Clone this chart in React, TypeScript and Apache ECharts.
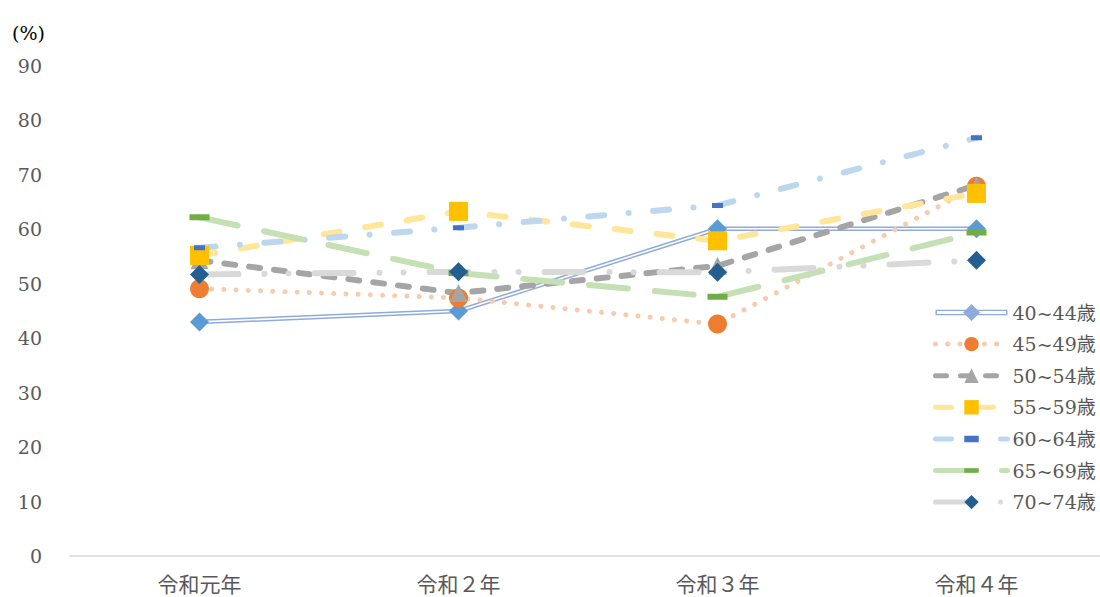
import React, { useEffect, useRef } from "react";
import * as echarts from "echarts";

// Categories (fiscal years) and rates (%) by age group
const categories = ["令和元年", "令和２年", "令和３年", "令和４年"];
const ageGroups = ["40~44歳", "45~49歳", "50~54歳", "55~59歳", "60~64歳", "65~69歳", "70~74歳"];

const rate40to44 = [43.0, 45.0, 60.1, 60.1];
const rate45to49 = [49.1, 47.4, 42.6, 67.9];
const rate50to54 = [54.3, 48.3, 53.3, 68.1];
const rate55to59 = [55.2, 63.3, 57.9, 66.6];
const rate60to64 = [56.6, 60.3, 64.4, 76.8];
const rate65to69 = [62.2, 52.0, 47.6, 59.4];
const rate70to74 = [51.7, 52.2, 52.1, 54.3];

const yMin = 0;
const yMax = 90;
const yStep = 10;

const serif = "'DejaVu Serif', 'Noto Sans CJK JP', serif";
const gothic = "'Noto Sans CJK JP', 'Noto Sans', sans-serif";
const textGray = "#595959";

// Legend icon for the double (compound) line: hollow bar with a diamond
const doubleLineIcon =
  "path://M0 6.2 H72 V11.8 H0 Z M1.4 7.6 V10.4 H70.6 V7.6 Z M36 0.5 L44.5 9 L36 17.5 L27.5 9 Z";

// Flat markers drawn inside a square box (the corner points keep the box square)
const shortDashMarker = "path://M0 0 L0.01 0 Z M0 3 H11 V8 H0 Z M11 11 L10.99 11 Z";
const longDashMarker = "path://M0 0 L0.01 0 Z M0 7 H20 V13 H0 Z M20 20 L19.99 20 Z";

type Dash = number[] | "solid";

function lineSeries(
  name: string,
  data: number[],
  lineColor: string,
  width: number,
  dash: Dash,
  symbol: string,
  symbolSize: number | number[],
  markerColor: string
) {
  return {
    type: "line",
    name,
    data,
    symbol,
    symbolSize,
    symbolKeepAspect: true,
    showSymbol: true,
    lineStyle: { color: lineColor, width, type: dash, cap: "round", join: "round" },
    itemStyle: { color: markerColor, borderWidth: 0 },
    emphasis: { disabled: true },
    z: 2,
  };
}

export default function App() {
  const ref = useRef<HTMLDivElement>(null);

  useEffect(() => {
    if (!ref.current) return;
    const chart = echarts.init(ref.current, undefined, { renderer: "svg" });

    const series: any[] = [
      // 40~44: compound line drawn as a wide blue stroke with a thin white core
      {
        type: "line",
        name: ageGroups[0],
        data: rate40to44,
        showSymbol: false,
        symbol: "none",
        lineStyle: { color: "#8FAADC", width: 4.6, join: "round" },
        itemStyle: { color: "#8FAADC" },
        emphasis: { disabled: true },
        z: 2,
      },
      {
        type: "line",
        name: "40~44 core",
        data: rate40to44,
        showSymbol: false,
        symbol: "none",
        silent: true,
        lineStyle: { color: "#FFFFFF", width: 1.6, join: "round" },
        emphasis: { disabled: true },
        z: 2,
      },
      {
        type: "line",
        name: "40~44 markers",
        data: rate40to44,
        symbol: "diamond",
        symbolSize: 19,
        lineStyle: { opacity: 0 },
        itemStyle: { color: "#5B9BD5" },
        emphasis: { disabled: true },
        z: 2,
      },
      lineSeries(ageGroups[1], rate45to49, "#F8CBAD", 5, [0.01, 12.2], "circle", 19, "#ED7D31"),
      lineSeries(ageGroups[2], rate50to54, "#A5A5A5", 6, [11, 14], "triangle", 18, "#A5A5A5"),
      lineSeries(ageGroups[3], rate55to59, "#FFE699", 6, [16, 26], "rect", 19, "#FFC000"),
      lineSeries(ageGroups[4], rate60to64, "#BDD7EE", 6, [16, 24.5, 0.01, 24.5], shortDashMarker, 11, "#4472C4"),
      lineSeries(ageGroups[5], rate65to69, "#C5E0B4", 6, [39, 27], longDashMarker, 20, "#70AD47"),
      lineSeries(ageGroups[6], rate70to74, "#D9D9D9", 6, [39, 26, 0.01, 24, 0.01, 26], "diamond", 19, "#255E91"),
    ];

    chart.setOption({
      animation: false,
      backgroundColor: "#FFFFFF",
      title: {
        text: "(%)",
        left: 7,
        top: 18,
        textStyle: { fontFamily: serif, fontSize: 19, fontWeight: "normal", color: "#000000" },
      },
      grid: {
        left: 70,
        top: 66,
        width: 1036,
        height: 490,
        containLabel: false,
        outerBoundsMode: "none",
      },
      legend: {
        orient: "vertical",
        left: 928,
        top: 298,
        itemWidth: 72,
        itemHeight: 18,
        itemGap: 12.6,
        selectedMode: false,
        lineStyle: { width: 5, cap: "round" },
        textStyle: { fontFamily: serif, fontSize: 19, color: textGray, lineHeight: 18 },
        data: [
          { name: ageGroups[0], icon: doubleLineIcon },
          ageGroups[1],
          ageGroups[2],
          ageGroups[3],
          ageGroups[4],
          ageGroups[5],
          ageGroups[6],
        ],
      },
      xAxis: {
        type: "category",
        data: categories,
        boundaryGap: true,
        axisLine: { lineStyle: { color: "#D9D9D9", width: 1.5 } },
        axisTick: { show: false },
        splitLine: { show: false },
        axisLabel: { fontFamily: gothic, fontSize: 21, lineHeight: 21, color: textGray, margin: 16 },
      },
      yAxis: {
        type: "value",
        min: yMin,
        max: yMax,
        interval: yStep,
        axisLine: { show: false },
        axisTick: { show: false },
        splitLine: { show: false },
        axisLabel: { fontFamily: serif, fontSize: 19, color: textGray, margin: 28 },
      },
      series,
    });

    return () => chart.dispose();
  }, []);

  return (
    <div
      ref={ref}
      style={{ position: "fixed", left: 0, top: 0, width: 1100, height: 597, background: "#fff" }}
    />
  );
}
